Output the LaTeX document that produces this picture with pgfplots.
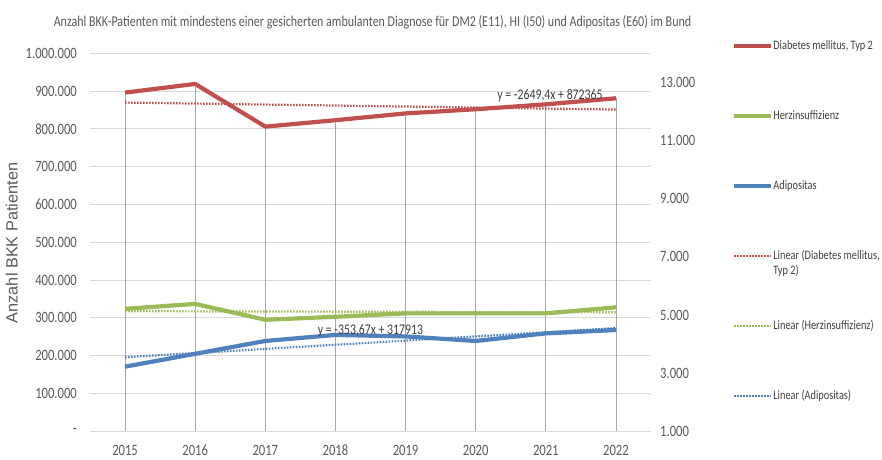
\documentclass[border=0pt]{standalone}
\usepackage{fontspec}
\setmainfont{Carlito}[FakeStretch=0.8]
\newfontfamily\arialfont{Liberation Sans}
\usepackage{pgfplots}
\pgfplotsset{compat=1.18}
\definecolor{dmred}{HTML}{C0504D}
\definecolor{hgreen}{HTML}{9BBB59}
\definecolor{ablue}{HTML}{4F81BD}
\definecolor{gridc}{HTML}{D9D9D9}
\definecolor{dropc}{HTML}{A6A6A6}
\definecolor{txt}{HTML}{595959}
\definecolor{txtd}{HTML}{404040}
\begin{document}
\begin{tikzpicture}
\useasboundingbox (0,0) rectangle (882pt,459pt);
\begin{axis}[
 at={(90pt,27.7pt)}, anchor=south west,
 scale only axis, width=561pt, height=378pt,
 xmin=2014.5, xmax=2022.5, ymin=0, ymax=1000000,
 axis line style={draw=none},
 xtick={2015,2016,2017,2018,2019,2020,2021,2022},
 xticklabels={2015,2016,2017,2018,2019,2020,2021,2022},
 ytick={0,100000,200000,300000,400000,500000,600000,700000,800000,900000,1000000},
 yticklabels={-,100.000,200.000,300.000,400.000,500.000,600.000,700.000,800.000,900.000,1.000.000},
 scaled y ticks=false,
 major tick length=0pt,
 ymajorgrids, grid style={gridc, line width=1pt},
 tick label style={font=\fontsize{15.75}{18}\selectfont, text=txt, inner sep=0pt},
 xticklabel style={anchor=north, yshift=-13.5pt},
 yticklabel style={anchor=east, xshift=-13pt},
 legend cell align=left,
 legend style={at={(1.1390,1.0431)}, anchor=north west, draw=none, fill=none,
   font=\fontsize{12.9}{15}\selectfont, text=txtd, row sep=57pt, column sep=0pt,
   nodes={inner sep=0pt, text height=10pt, text depth=3pt}},
 legend image code/.code={\draw[#1] (0pt,0pt) -- (37pt,0pt);},
]
\addplot[ycomb, dropc, line width=0.8pt, forget plot] coordinates {(2015,896000) (2016,919000) (2017,806000) (2018,823000) (2019,841000) (2020,852000) (2021,865000) (2022,881000)};
\addplot[dmred, line width=4.2pt, line join=round] coordinates {(2015,896000) (2016,919000) (2017,806000) (2018,823000) (2019,841000) (2020,852000) (2021,865000) (2022,881000)};
\addlegendentry{Diabetes mellitus, Typ 2}
\addplot[hgreen, line width=4.2pt, line join=round] coordinates {(2015,324000) (2016,337000) (2017,295000) (2018,303000) (2019,312000) (2020,312000) (2021,312000) (2022,328000)};
\addlegendentry{Herzinsuffizienz}
\addplot[ablue, line width=4.2pt, line join=round] coordinates {(2015,171000) (2016,205000) (2017,239000) (2018,255000) (2019,251000) (2020,239000) (2021,259000) (2022,268000)};
\addlegendentry{Adipositas}
\addplot[dmred, line width=2.2pt, dash pattern=on 1.6pt off 1.4pt] coordinates {(2015,869700) (2022,851200)};
\addlegendentry{\rlap{\raisebox{-15pt}[0pt][0pt]{Typ 2)}}Linear (Diabetes mellitus,}
\addplot[hgreen, line width=2.2pt, dash pattern=on 1.6pt off 1.4pt] coordinates {(2015,317600) (2022,315100)};
\addlegendentry{Linear (Herzinsuffizienz)}
\addplot[ablue, line width=2.2pt, dash pattern=on 1.6pt off 1.4pt] coordinates {(2015,196000) (2022,273000)};
\addlegendentry{Linear (Adipositas)}
\node[font=\fontsize{14.75}{17}\selectfont, text=txtd] at (axis cs:2021.06,889000) {y = -2649,4x + 872365};
\node[font=\fontsize{14.75}{17}\selectfont, text=txtd] at (axis cs:2018.5,265000) {y = -353,67x + 317913};
\end{axis}
\begin{axis}[
 at={(90pt,27.7pt)}, anchor=south west,
 scale only axis, width=561pt, height=378pt,
 xmin=2014.5, xmax=2022.5, ymin=1000, ymax=14000,
 axis x line=none, axis y line*=right, axis line style={draw=none},
 ytick={1000,3000,5000,7000,9000,11000,13000},
 yticklabels={1.000,3.000,5.000,7.000,9.000,11.000,13.000},
 scaled y ticks=false,
 major tick length=0pt,
 yticklabel style={anchor=west, xshift=9pt, font=\fontsize{15.75}{18}\selectfont, text=txt, inner sep=0pt},
]
\addplot[draw=none, forget plot] coordinates {(2015,1000)};
\end{axis}
\node[font=\fontsize{15}{18}\selectfont, text=txt, anchor=base] at (372.5pt,432pt) {Anzahl BKK-Patienten mit mindestens einer gesicherten ambulanten Diagnose für DM2 (E11), HI (I50) und Adipositas (E60) im Bund};
\node[rotate=90, anchor=base, font=\arialfont\fontsize{16.3}{19}\selectfont, text=txt] at (17.5pt,216pt) {Anzahl BKK Patienten};
\end{tikzpicture}
\end{document}
